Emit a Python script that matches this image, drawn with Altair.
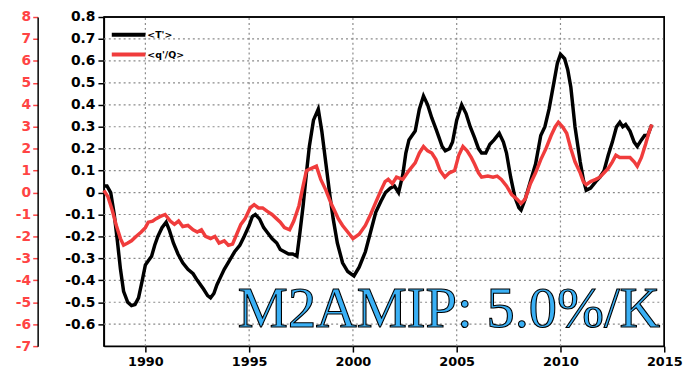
import altair as alt
import pandas as pd

# ---------------- data ----------------
t_years = [1988.0, 1988.15, 1988.33, 1988.5, 1988.65, 1988.8, 1988.95, 1989.15, 1989.33, 1989.5,
           1989.67, 1989.85, 1990.0, 1990.15, 1990.3, 1990.45, 1990.6, 1990.8, 1991.0, 1991.15,
           1991.35, 1991.57, 1991.8, 1992.05, 1992.3, 1992.5, 1992.8, 1993.0, 1993.14, 1993.3,
           1993.45, 1993.6, 1993.8, 1994.05, 1994.3, 1994.55, 1994.76, 1995.0, 1995.15, 1995.3,
           1995.5, 1995.7, 1995.86, 1996.1, 1996.33, 1996.5, 1996.7, 1996.9, 1997.1, 1997.3,
           1997.45, 1997.6, 1997.75, 1997.9, 1998.1, 1998.33, 1998.5, 1998.7, 1998.9, 1999.05,
           1999.25, 1999.5, 1999.75, 2000.05, 2000.3, 2000.6, 2000.85, 2001.1, 2001.35, 2001.57,
           2001.8, 2002.0, 2002.2, 2002.4, 2002.55, 2002.7, 2002.85, 2003.0, 2003.2, 2003.4,
           2003.6, 2003.8, 2004.0, 2004.15, 2004.3, 2004.45, 2004.65, 2004.8, 2005.0, 2005.24,
           2005.45, 2005.65, 2005.86, 2006.05, 2006.2, 2006.4, 2006.6, 2006.8, 2007.05, 2007.25,
           2007.4, 2007.6, 2007.8, 2008.0, 2008.1, 2008.3, 2008.55, 2008.8, 2009.05, 2009.25,
           2009.45, 2009.7, 2009.85, 2010.0, 2010.2, 2010.35, 2010.5, 2010.7, 2010.95, 2011.1,
           2011.24, 2011.45, 2011.7, 2011.9, 2012.1, 2012.3, 2012.5, 2012.7, 2012.86, 2013.0,
           2013.14, 2013.35, 2013.55, 2013.7, 2013.9, 2014.05, 2014.2, 2014.4]
t_vals = [0.03, 0.03, 0.0, -0.1, -0.22, -0.35, -0.45, -0.5, -0.515, -0.51,
          -0.48, -0.4, -0.33, -0.31, -0.29, -0.24, -0.2, -0.16, -0.135, -0.17,
          -0.23, -0.28, -0.32, -0.35, -0.37, -0.4, -0.44, -0.47, -0.48, -0.46,
          -0.42, -0.39, -0.35, -0.31, -0.27, -0.24, -0.2, -0.15, -0.11, -0.1,
          -0.12, -0.16, -0.18, -0.21, -0.23, -0.26, -0.27, -0.28, -0.28, -0.29,
          -0.18, -0.06, 0.08, 0.21, 0.33, 0.38, 0.28, 0.13, -0.02, -0.12,
          -0.23, -0.32, -0.36, -0.38, -0.34, -0.27, -0.18, -0.09, -0.04, 0.0,
          0.02, 0.03, 0.0, 0.08, 0.18, 0.24, 0.26, 0.28, 0.38, 0.44,
          0.4, 0.34, 0.29, 0.25, 0.21, 0.19, 0.2, 0.23, 0.33, 0.4,
          0.36, 0.3, 0.25, 0.2, 0.18, 0.18, 0.22, 0.24, 0.27, 0.23,
          0.18, 0.07, -0.02, -0.07, -0.08, -0.03, 0.05, 0.13, 0.26, 0.3,
          0.38, 0.51, 0.59, 0.63, 0.61, 0.56, 0.48, 0.3, 0.14, 0.06,
          0.01, 0.02, 0.05, 0.07, 0.1, 0.17, 0.23, 0.3, 0.32, 0.3,
          0.31, 0.28, 0.23, 0.21, 0.24, 0.26, 0.26, 0.31]

q_years = [1988.0, 1988.2, 1988.4, 1988.6, 1988.8, 1988.95, 1989.15, 1989.33, 1989.55, 1989.8,
           1990.0, 1990.14, 1990.35, 1990.5, 1990.7, 1990.95, 1991.2, 1991.4, 1991.6, 1991.8,
           1992.05, 1992.3, 1992.5, 1992.7, 1992.9, 1993.14, 1993.35, 1993.55, 1993.8, 1994.0,
           1994.2, 1994.4, 1994.6, 1994.8, 1995.05, 1995.24, 1995.45, 1995.65, 1995.86, 1996.1,
           1996.33, 1996.5, 1996.7, 1996.95, 1997.15, 1997.4, 1997.6, 1997.76, 1998.0, 1998.24,
           1998.45, 1998.7, 1998.95, 1999.1, 1999.3, 1999.5, 1999.75, 2000.0, 2000.3, 2000.6,
           2000.85, 2001.1, 2001.35, 2001.55, 2001.7, 2001.9, 2002.1, 2002.4, 2002.7, 2003.0,
           2003.2, 2003.4, 2003.6, 2003.8, 2004.0, 2004.2, 2004.43, 2004.65, 2004.9, 2005.1,
           2005.3, 2005.5, 2005.7, 2005.86, 2006.05, 2006.2, 2006.5, 2006.75, 2006.95, 2007.15,
           2007.4, 2007.65, 2007.9, 2008.1, 2008.3, 2008.55, 2008.8, 2009.05, 2009.3, 2009.55,
           2009.75, 2009.9, 2010.1, 2010.3, 2010.5, 2010.7, 2010.95, 2011.1, 2011.24, 2011.45,
           2011.7, 2011.9, 2012.1, 2012.3, 2012.5, 2012.67, 2012.85, 2013.0, 2013.14, 2013.35,
           2013.55, 2013.7, 2013.9, 2014.1, 2014.25, 2014.4]
# q'/Q in % (red axis units)
q_vals = [0.1, -0.2, -0.8, -1.5, -2.1, -2.4, -2.3, -2.2, -2.0, -1.8,
          -1.6, -1.35, -1.3, -1.2, -1.1, -1.0, -1.3, -1.45, -1.3, -1.55,
          -1.5, -1.7, -1.8, -1.7, -2.0, -2.1, -2.0, -2.3, -2.2, -2.4,
          -2.35, -1.9, -1.45, -1.2, -0.7, -0.55, -0.7, -0.7, -0.85, -1.0,
          -1.2, -1.35, -1.6, -1.7, -1.3, -0.6, 0.3, 1.0, 1.1, 1.2,
          0.6, 0.1, -0.5, -0.8, -1.2, -1.5, -1.8, -2.1, -1.9, -1.5,
          -1.0, -0.45, 0.1, 0.5, 0.6, 0.4, 0.7, 0.6, 1.0, 1.35,
          1.8, 2.1, 1.9, 1.8, 1.5, 1.0, 0.7, 0.9, 1.0, 1.7,
          2.1, 1.9, 1.6, 1.3, 0.9, 0.7, 0.75, 0.7, 0.75, 0.6,
          0.3, -0.1, -0.3, -0.5, -0.3, 0.4, 0.9, 1.5, 2.0, 2.6,
          3.0, 3.2, 3.0, 2.7, 2.0, 1.4, 0.9, 0.5, 0.36, 0.5,
          0.6, 0.7, 0.9, 1.1, 1.4, 1.7, 1.6, 1.6, 1.6, 1.6,
          1.4, 1.2, 1.6, 2.2, 2.7, 3.1]

series_names = ["<T'>", "<q'/Q>"]
series_colors = ["#000000", "#f03c3c"]
x_ticks = [1990, 1995, 2000, 2005, 2010, 2015]
t_ticks = [-0.6, -0.5, -0.4, -0.3, -0.2, -0.1, 0.0, 0.1, 0.2, 0.3, 0.4, 0.5, 0.6, 0.7, 0.8]
q_ticks = [-7, -6, -5, -4, -3, -2, -1, 0, 1, 2, 3, 4, 5, 6, 7, 8]
annotation = ["M2AMIP: 5.0%/K"]

FONT = "DejaVu Sans"
RED = "#ff4444"
GRID = "#8a8a8a"
T_DOMAIN = [-0.7, 0.8]
Q_DOMAIN = [-7, 8]
X_DOMAIN = [1988, 2015]

dfT = pd.DataFrame({"year": t_years, "T": t_vals})
dfQ = pd.DataFrame({"year": q_years, "Q": q_vals})
dfA = pd.DataFrame({"label": annotation})

# grid lines and plot frame as two-point line segments built from the tick lists / domains
grid_rows = []
for g in x_ticks[:-1]:
    grid_rows += [{"id": f"x{g}", "year": g, "T": T_DOMAIN[0]}, {"id": f"x{g}", "year": g, "T": T_DOMAIN[1]}]
for g in t_ticks[:-1]:
    grid_rows += [{"id": f"y{g}", "year": X_DOMAIN[0], "T": g}, {"id": f"y{g}", "year": X_DOMAIN[1], "T": g}]
dfG = pd.DataFrame(grid_rows)
dfF = pd.DataFrame({
    "year": [X_DOMAIN[0], X_DOMAIN[1], X_DOMAIN[1]],
    "T": [T_DOMAIN[1], T_DOMAIN[1], T_DOMAIN[0]],
})

x_scale = alt.Scale(domain=X_DOMAIN, nice=False, zero=False)
t_scale = alt.Scale(domain=T_DOMAIN, nice=False, zero=False)
x_axis = alt.Axis(
    values=x_ticks, format="d", title=None, grid=False,
    labelFont=FONT, labelFontWeight="bold", labelFontSize=13, labelColor="black",
    labelFlush=False, labelOverlap=False, labelPadding=4,
    tickSize=6, tickWidth=1.5, tickColor="black",
    domainColor="black", domainWidth=1.5,
)
t_axis = alt.Axis(
    values=t_ticks, title=None, grid=False,
    labelExpr="datum.value == 0 ? '0' : replace(format(datum.value, '.1f'), '\u2212', '-')",
    labelFont=FONT, labelFontWeight="bold", labelFontSize=14, labelColor="black",
    labelPadding=3, labelFlush=False, labelOverlap=False,
    tickSize=6, tickWidth=1.5, tickColor="black",
    domainColor="black", domainWidth=1.5,
)

grid = alt.Chart(dfG).mark_line(color=GRID, strokeDash=[2, 3], strokeWidth=1.2).encode(
    x=alt.X("year:Q", scale=x_scale, axis=x_axis),
    y=alt.Y("T:Q", scale=t_scale, axis=t_axis),
    detail="id:N",
)

frame = alt.Chart(dfF).mark_line(color="black", strokeWidth=1.5).encode(
    x=alt.X("year:Q", scale=x_scale, axis=x_axis),
    y=alt.Y("T:Q", scale=t_scale, axis=t_axis),
    order=alt.Order("year:Q"),
)

black = alt.Chart(dfT).mark_line(strokeWidth=3.5, color=series_colors[0]).encode(
    x=alt.X("year:Q", scale=x_scale, axis=x_axis),
    y=alt.Y("T:Q", scale=t_scale, axis=t_axis),
)

tlayer = alt.layer(grid, frame, black)

red = alt.Chart(dfQ).mark_line(strokeWidth=3.5, color=series_colors[1]).encode(
    x=alt.X("year:Q", scale=x_scale, axis=x_axis),
    y=alt.Y(
        "Q:Q",
        scale=alt.Scale(domain=Q_DOMAIN, nice=False, zero=False),
        axis=alt.Axis(
            orient="left", offset=67, values=q_ticks, title=None, grid=False,
            labelExpr="replace(format(datum.value, 'd'), '\u2212', '-')",
            labelFont=FONT, labelFontWeight="bold", labelFontSize=14, labelColor=RED,
            labelPadding=2, labelFlush=False, labelOverlap=False,
            tickSize=5, tickWidth=1.5, tickColor=RED,
            domainColor="black", domainWidth=1.5,
        ),
    ),
)

# manual legend (top-left inside the plot)
legend_layers = []
for i, (name, col) in enumerate(zip(series_names, series_colors)):
    ypix = 18 + 20 * i
    legend_layers.append(
        alt.Chart(pd.DataFrame({"label": [name]})).mark_rule(color=col, strokeWidth=4).encode(
            x=alt.value(8), x2=alt.value(42), y=alt.value(ypix)
        )
    )
    legend_layers.append(
        alt.Chart(pd.DataFrame({"label": [name]})).mark_text(
            font=FONT, fontSize=9.5, fontWeight="bold", color="black",
            align="left", baseline="middle",
        ).encode(x=alt.value(44), y=alt.value(ypix), text="label:N")
    )

label = alt.Chart(dfA).mark_text(
    font="Liberation Serif", fontSize=57, fill="#3ab0f5", stroke="black", strokeWidth=1.1,
    align="right", baseline="alphabetic",
).encode(x=alt.value(563), y=alt.value(314), text="label:N")

chart = alt.layer(
    tlayer, red, *legend_layers, label
).resolve_scale(y="independent").properties(
    width=567, height=333,
    autosize=alt.AutoSizeParams(type="none"),
    padding={"left": 97, "top": 7, "right": 21, "bottom": 20},
).configure(background="white").configure_view(stroke="black", strokeWidth=1.5)

chart.save("out.html", embed_options={"renderer": "svg", "actions": False})
